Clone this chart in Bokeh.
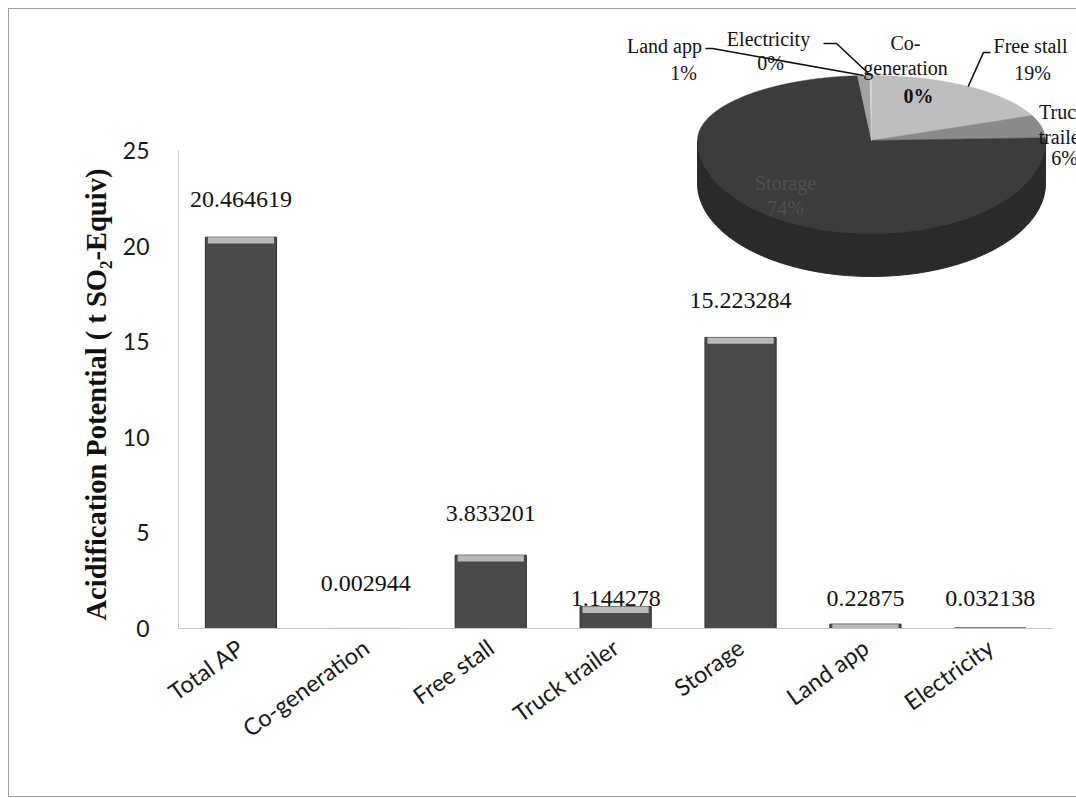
import numpy as np
from bokeh.plotting import figure
from bokeh.models import Range1d, FixedTicker, ColumnDataSource, Title
from bokeh.embed import file_html
from bokeh.resources import INLINE
from bokeh.core.properties import value

# ---------------- data ----------------
categories = ["Total AP", "Co-generation", "Free stall", "Truck trailer",
              "Storage", "Land app", "Electricity"]
values = [20.464619, 0.002944, 3.833201, 1.144278, 15.223284, 0.22875, 0.032138]
value_labels = ["20.464619", "0.002944", "3.833201", "1.144278",
                "15.223284", "0.22875", "0.032138"]
y_ticks = [0, 5, 10, 15, 20, 25]

pie_categories = ["Co-generation", "Free stall", "Truck trailer",
                  "Storage", "Land app", "Electricity"]
pie_values = [0.002944, 3.833201, 1.144278, 15.223284, 0.22875, 0.032138]
pie_label_names = ["Co-\ngeneration", "Free stall", "Truck\ntrailer",
                   "Storage", "Land app", "Electricity"]
y_title = "Acidification Potential ( t SO\u2082-Equiv)"

# ---------------- styles / layout ----------------
bar_offsets = [-38, -45, -42, -8, -37, -26, -29]   # label offset (px) above bar top
pie_top_colors = ["#cfcfcf", "#bebebe", "#8a8a8a", "#3c3c3c", "#a2a2a2", "#d5d5d5"]
pie_side_colors = ["#9a9a9a", "#8d8d8d", "#5e5e5e", "#2a2a2a", "#777777", "#a0a0a0"]
name_xy = [(905, 55), (1030, 45), (1062, 124), (785, 182), (664, 45), (768, 38)]
pct_xy = [(918, 95), (1032, 72), (1064, 157), (785, 207), (683, 72), (770, 62)]
name_colors = ["#111111", "#111111", "#111111", "#505050", "#111111", "#111111"]
leaders = {1: [(990, 52), (983, 52)], 4: [(705, 48), (712, 48)], 5: [(823, 43), (836, 43)]}
CX, CY, RX, RY_B, RY_F, DEPTH = 871, 140, 174, 65, 93, 43

W, H = 1069, 789
p = figure(width=W, height=H, output_backend="svg", toolbar_location=None,
           x_range=Range1d(0, 900 / 124.9), y_range=Range1d(0, 619 / 19.12),
           min_border_left=169, min_border_right=0, min_border_top=0,
           min_border_bottom=170, outline_line_color=None)
p.margin = (8, 0, 0, 8)
p.styles = {"border": "1px solid #a0a0a0"}
p.extra_x_ranges = {"px": Range1d(178, 1078)}
p.extra_y_ranges = {"px": Range1d(628, 9)}
p.xgrid.visible = False
p.ygrid.visible = False

xpos = [i + 0.5 for i in range(len(categories))]

# axes
p.xaxis.bounds = (0, len(categories))
p.xaxis.ticker = FixedTicker(ticks=xpos)
p.xaxis.major_label_overrides = {x: c for x, c in zip(xpos, categories)}
p.xaxis.major_label_orientation = 0.62
p.xaxis.major_label_text_font = "Lato"
p.xaxis.major_label_text_font_size = "23.5px"
p.xaxis.major_label_text_color = "#1a1a1a"
p.xaxis.axis_line_color = "#c4c4c4"
p.xaxis.major_tick_line_color = None
p.xaxis.minor_tick_line_color = None
p.xaxis.major_label_standoff = 10

p.yaxis.bounds = (0, 25)
p.yaxis.ticker = FixedTicker(ticks=y_ticks)
p.yaxis.major_label_text_font = "Lato"
p.yaxis.major_label_text_font_size = "23px"
p.yaxis.major_label_text_color = "#1a1a1a"
p.yaxis.axis_line_color = "#cccccc"
p.yaxis.major_tick_line_color = None
p.yaxis.minor_tick_line_color = None
p.yaxis.major_label_standoff = 23

ytitle = Title(text=y_title, align="left", offset=8, standoff=16,
               text_font="Liberation Serif", text_font_style="bold",
               text_font_size="28.5px", text_color="#111111")
p.add_layout(ytitle, "left")

# bars
vals = np.array(values)
src = ColumnDataSource(dict(x=xpos, top=vals, bevel=np.maximum(vals - 0.33, 0),
                            lab=value_labels, off=bar_offsets))
p.vbar(x="x", top="top", bottom=0, width=0.57, source=src,
       fill_color="#4a4a4a", line_color="#2e2e2e", line_width=1)
p.vbar(x="x", top="top", bottom="bevel", width=0.53, source=src,
       fill_color="#b9b9b9", line_color=None)
p.text(x="x", y="top", text="lab", y_offset="off", source=src,
       text_align="center", text_baseline="middle",
       text_font=value("Liberation Serif"), text_font_size="24px", text_color="#111111")

# ---------------- 3D pie (inset) ----------------
pv = np.array(pie_values)
frac = pv / pv.sum()
cum = np.concatenate([[0], np.cumsum(frac)])
pcts = [f"{int(round(f * 100))}%" for f in frac]


def ept(t):
    t = np.asarray(t, dtype=float)
    c = np.cos(t)
    ry = np.where(c >= 0, RY_B, RY_F)
    return CX + RX * np.sin(t), CY - ry * c


side_xs, side_ys, side_cols = [], [], []
top_xs, top_ys, top_cols = [], [], []
for i in range(len(pv)):
    a0, a1 = cum[i] * 2 * np.pi, cum[i + 1] * 2 * np.pi
    s0, s1 = max(a0, np.pi / 2), min(a1, 3 * np.pi / 2)
    if s1 > s0:
        t = np.linspace(s0, s1, 80)
        x, y = ept(t)
        side_xs.append(list(x) + list(x[::-1]))
        side_ys.append(list(y) + list((y + DEPTH)[::-1]))
        side_cols.append(pie_side_colors[i])
    t = np.linspace(a0, a1, max(3, int(200 * (a1 - a0))))
    x, y = ept(t)
    top_xs.append([CX] + list(x))
    top_ys.append([CY] + list(y))
    top_cols.append(pie_top_colors[i])

p.patches(side_xs, side_ys, fill_color=side_cols, line_color=side_cols,
          x_range_name="px", y_range_name="px")
p.patches(top_xs, top_ys, fill_color=top_cols, line_color=top_cols, line_width=0.5,
          x_range_name="px", y_range_name="px")

# leader lines
lx, ly = [], []
for i, pts in leaders.items():
    mid = (cum[i] + cum[i + 1]) * np.pi
    ex, ey = ept(mid)
    lx.append([q[0] for q in pts] + [float(ex)])
    ly.append([q[1] for q in pts] + [float(ey)])
p.multi_line(lx, ly, line_color="#111111", line_width=1.6,
             x_range_name="px", y_range_name="px")

# pie labels
p.text(x=[q[0] for q in name_xy], y=[q[1] for q in name_xy], text=pie_label_names,
       text_color=name_colors, text_align="center", text_baseline="middle",
       text_line_height=1.1,
       text_font=value("Liberation Serif"), text_font_size="20px",
       x_range_name="px", y_range_name="px")
pct_style = ["bold", "normal", "normal", "normal", "normal", "normal"]
for style in ("normal", "bold"):
    idx = [i for i in range(len(pcts)) if pct_style[i] == style]
    p.text(x=[pct_xy[i][0] for i in idx], y=[pct_xy[i][1] for i in idx],
           text=[pcts[i] for i in idx], text_color=[name_colors[i] for i in idx],
           text_align="center", text_baseline="middle",
           text_font=value("Liberation Serif"), text_font_size="20px",
           text_font_style=style, x_range_name="px", y_range_name="px")

open("out.html", "w").write(file_html(p, INLINE))
